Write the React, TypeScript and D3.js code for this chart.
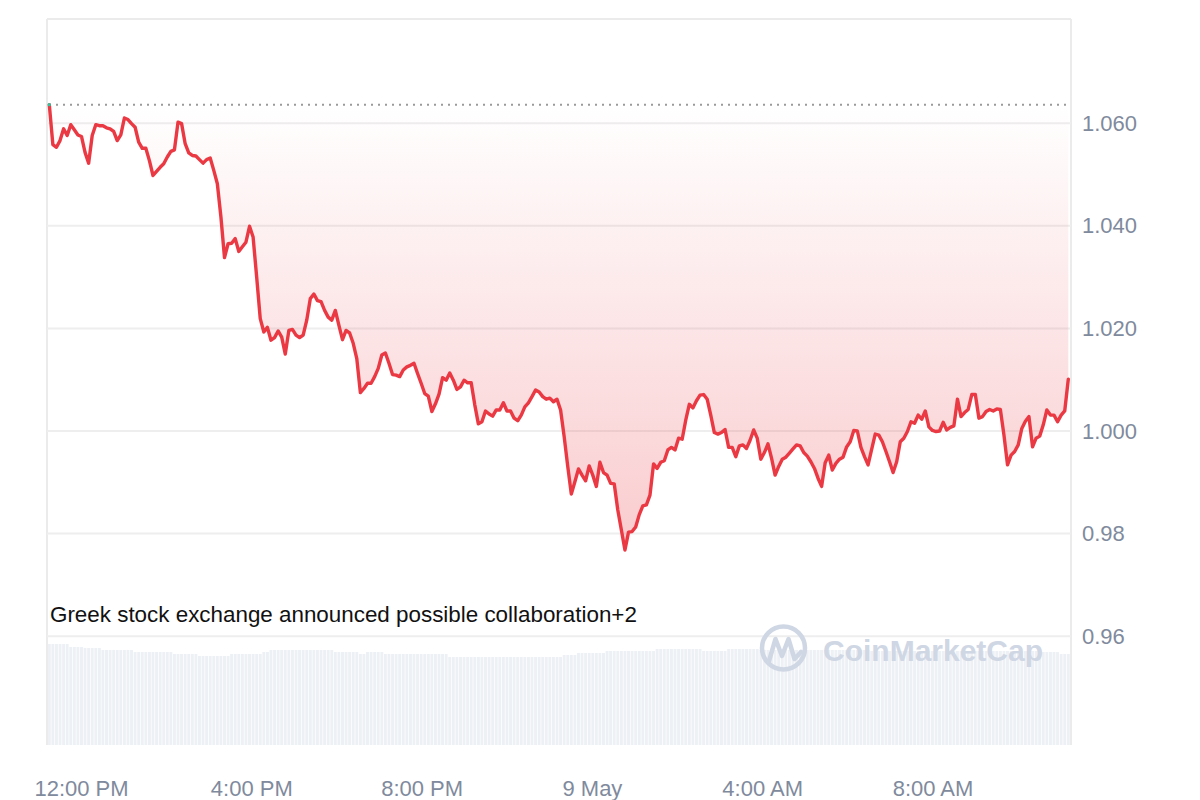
import React from "react";
import * as d3 from "d3";

// ---- Data ----
const startTime = "2024-05-08T11:14:35";
const endTime = "2024-05-09T11:10:40";

const priceValues: number[] = [
  1.0636, 1.0558, 1.0553, 1.0566, 1.0589, 1.0576, 1.0597, 1.0587, 1.0577, 1.0574,
  1.0543, 1.0522, 1.0576, 1.0597, 1.0595, 1.0595, 1.0591, 1.0589, 1.0584, 1.0566,
  1.0577, 1.061, 1.0607, 1.0599, 1.0592, 1.0563, 1.0551, 1.0551, 1.0527, 1.0498,
  1.0506, 1.0514, 1.0521, 1.0534, 1.0545, 1.0548, 1.0602, 1.0599, 1.056, 1.0542,
  1.0537, 1.0536, 1.0529, 1.0522, 1.0529, 1.0532, 1.0508, 1.0482, 1.0417, 1.0338,
  1.0365, 1.0366, 1.0375, 1.035, 1.0359, 1.0368, 1.0399, 1.0378, 1.03, 1.0219,
  1.0193, 1.0202, 1.0177, 1.0182, 1.0195, 1.0183, 1.015, 1.0196, 1.0198, 1.0187,
  1.0182, 1.0187, 1.0216, 1.0258, 1.0267, 1.0254, 1.0252, 1.0235, 1.0222, 1.0216,
  1.0235, 1.0206, 1.0178, 1.0196, 1.0191, 1.0171, 1.0141, 1.0075, 1.0083, 1.0093,
  1.0093, 1.0106, 1.0122, 1.0148, 1.0152, 1.0132, 1.011, 1.0109, 1.0106, 1.0119,
  1.0125, 1.0128, 1.0132, 1.0112, 1.0093, 1.0073, 1.0068, 1.0038, 1.0053, 1.0072,
  1.0104, 1.0099, 1.0113, 1.0099, 1.0081, 1.0086, 1.0099, 1.0094, 1.0094, 1.0051,
  1.0014, 1.0018, 1.0039, 1.0033, 1.0029, 1.0041, 1.0041, 1.0055, 1.0039, 1.0039,
  1.0025, 1.002, 1.0031, 1.0047, 1.0055, 1.0067, 1.008, 1.0076, 1.0067, 1.0062,
  1.0064, 1.0057, 1.0062, 1.0041, 0.9989, 0.9931, 0.9877, 0.9901, 0.9926, 0.9914,
  0.9903, 0.9932, 0.9914, 0.9892, 0.9939, 0.9919, 0.9914, 0.9898, 0.9897, 0.9846,
  0.9807, 0.9768, 0.9803, 0.9804, 0.9813, 0.9837, 0.9854, 0.9856, 0.9875, 0.9936,
  0.9927, 0.9939, 0.9942, 0.9963, 0.9968, 0.9963, 0.9986, 0.9984, 1.0021, 1.0052,
  1.0045, 1.0059, 1.007, 1.0071, 1.0062, 1.0031, 0.9997, 0.9994, 0.9997, 1.0003,
  0.9968, 0.9968, 0.995, 0.9971, 0.9973, 0.9966, 0.9982, 1.0002, 0.9986, 0.9945,
  0.9958, 0.9975, 0.9947, 0.9914, 0.9931, 0.9945, 0.9949, 0.9957, 0.9965, 0.9973,
  0.9971, 0.9958, 0.9951, 0.994, 0.9927, 0.9908, 0.9892, 0.9938, 0.9953, 0.9924,
  0.9937, 0.9945, 0.9949, 0.9969, 0.9979, 1.0001, 1.0, 0.9968, 0.995, 0.9934,
  0.9964, 0.9994, 0.9992, 0.9979, 0.996, 0.994, 0.9919, 0.994, 0.9979, 0.9986,
  0.9999, 1.0018, 1.0015, 1.0031, 1.0023, 1.0039, 1.0008, 1.0001, 0.9999, 1.0,
  1.0017, 1.0002, 1.0007, 1.001, 1.0062, 1.0028, 1.0036, 1.0042, 1.0071, 1.0071,
  1.0025, 1.0028, 1.0038, 1.0042, 1.0039, 1.0043, 1.0042, 0.9992, 0.9934, 0.9953,
  0.996, 0.9973, 1.0005, 1.0019, 1.0028, 0.9969, 0.9986, 0.999, 1.0012, 1.0041,
  1.0031, 1.0031, 1.0018, 1.0031, 1.0039, 1.0101,
];

// Volume (relative units), as runs of [number of bars, value]
const volumeRuns: [number, number][] = [
  [6, 101], [4, 98], [5, 97], [9, 95], [11, 93], [7, 91], [9, 89], [9, 91],
  [2, 93], [18, 95], [7, 93], [2, 91], [5, 93], [18, 91], [32, 88], [4, 90],
  [8, 92], [14, 94], [13, 96], [7, 94], [9, 96], [31, 95], [48, 94], [5, 93], [3, 91],
];

const yTickValues = [0.96, 0.98, 1.0, 1.02, 1.04, 1.06];
const yTickLabels = ["0.96", "0.98", "1.000", "1.020", "1.040", "1.060"];
const xTickTimes = [
  "2024-05-08T12:00:00", "2024-05-08T16:00:00", "2024-05-08T20:00:00",
  "2024-05-09T00:00:00", "2024-05-09T04:00:00", "2024-05-09T08:00:00",
];
const xTickLabels = ["12:00 PM", "4:00 PM", "8:00 PM", "9 May", "4:00 AM", "8:00 AM"];
const annotationText = "Greek stock exchange announced possible collaboration+2";
const yDomain: [number, number] = [0.9388, 1.0803];

const FONT = "'Liberation Sans', Arial, Helvetica, sans-serif";

export default function App() {
  const W = 1200;
  const H = 800;
  const m = { left: 47, right: 129, top: 19, bottom: 55 };
  const plotL = m.left;
  const plotR = W - m.right;
  const plotT = m.top;
  const plotB = H - m.bottom;

  const t0 = new Date(startTime).getTime();
  const t1 = new Date(endTime).getTime();
  const n = priceValues.length;
  const data = priceValues.map((v, i) => ({
    t: new Date(t0 + ((t1 - t0) * i) / (n - 1)),
    v,
  }));

  const x = d3.scaleTime().domain([new Date(t0), new Date(t1)]).range([plotL + 2.3, plotR - 2.7]);
  const y = d3.scaleLinear().domain(yDomain).range([plotB, plotT]);

  const volumes: number[] = [];
  volumeRuns.forEach(([c, v]) => {
    for (let k = 0; k < c; k++) volumes.push(v);
  });
  const vMax = d3.max(volumes) || 1;
  const yVol = d3.scaleLinear().domain([0, vMax]).range([plotB, plotB - 101]);
  const step = x(data[1].t) - x(data[0].t);

  const ref = priceValues[0];
  const minV = d3.min(priceValues) || ref;

  const line = d3
    .line<{ t: Date; v: number }>()
    .x((d) => x(d.t))
    .y((d) => y(d.v));
  const area = d3
    .area<{ t: Date; v: number }>()
    .x((d) => x(d.t))
    .y0(y(ref))
    .y1((d) => y(d.v));

  return (
    <svg
      width={W}
      height={H}
      style={{ position: "absolute", left: 0, top: 0, background: "#fff" }}
    >
      <defs>
        <linearGradient
          id="areaGrad"
          gradientUnits="userSpaceOnUse"
          x1={0}
          x2={0}
          y1={y(ref)}
          y2={y(minV)}
        >
          <stop offset="0%" stopColor="#ea3943" stopOpacity={0.0} />
          <stop offset="100%" stopColor="#ea3943" stopOpacity={0.26} />
        </linearGradient>
      </defs>

      {/* volume bars */}
      <g>
        {volumes.map((v, i) => {
          const cx = x(data[Math.min(i, n - 1)].t);
          return (
            <rect
              key={i}
              x={cx - step / 2 + 0.35}
              width={step - 0.7}
              y={yVol(v)}
              height={plotB - yVol(v)}
              fill="#edf0f4"
            />
          );
        })}
      </g>

      {/* frame */}
      <line x1={plotL} x2={plotR} y1={plotT} y2={plotT} stroke="#ebebeb" strokeWidth={2} />
      <line x1={plotL} x2={plotL} y1={plotT} y2={plotB} stroke="#ebebeb" strokeWidth={2} />
      <line x1={plotR} x2={plotR} y1={plotT} y2={plotB} stroke="#ebebeb" strokeWidth={2} />

      {/* grid */}
      {yTickValues.map((tv, i) => (
        <line
          key={i}
          x1={plotL}
          x2={plotR}
          y1={y(tv)}
          y2={y(tv)}
          stroke="#eeeeee"
          strokeWidth={2}
        />
      ))}

      {/* area */}
      <path d={area(data) || ""} fill="url(#areaGrad)" />

      {/* reference dotted line */}
      <line
        x1={plotL + 2}
        x2={plotR - 3}
        y1={y(ref)}
        y2={y(ref)}
        stroke="#9a9a9a"
        strokeWidth={2}
        strokeDasharray="2 5"
      />

      {/* price line */}
      <path
        d={line(data) || ""}
        fill="none"
        stroke="#ea3943"
        strokeWidth={3.4}
        strokeLinejoin="round"
        strokeLinecap="round"
      />
      <circle cx={x(data[0].t)} cy={y(ref)} r={1.6} fill="#34c3a0" />

      {/* y-axis labels */}
      {yTickValues.map((tv, i) => (
        <text
          key={i}
          x={plotR + 11}
          y={y(tv)}
          dy="0.35em"
          fontFamily={FONT}
          fontSize={22}
          fill="#808a9d"
        >
          {yTickLabels[i]}
        </text>
      ))}

      {/* x-axis labels */}
      {xTickTimes.map((tt, i) => (
        <text
          key={i}
          x={x(new Date(tt))}
          y={795.5}
          textAnchor="middle"
          fontFamily={FONT}
          fontSize={22}
          fill="#808a9d"
        >
          {xTickLabels[i]}
        </text>
      ))}

      {/* annotation */}
      <text x={plotL + 3} y={622} fontFamily={FONT} fontSize={22.4} fill="#111">
        {annotationText}
      </text>

      {/* watermark */}
      <g>
        <circle cx={783.5} cy={648} r={21.5} fill="none" stroke="#cfd6e4" strokeWidth={4.5} />
        <path
          d="M769,661 L775.5,639 L782,656 L788.5,639 L794.5,659 L801,652"
          fill="none"
          stroke="#cfd6e4"
          strokeWidth={4.5}
          strokeLinejoin="round"
          strokeLinecap="round"
        />
        <text
          x={823}
          y={661}
          fontFamily={FONT}
          fontWeight="bold"
          fontSize={30}
          fill="#cfd6e4"
        >
          CoinMarketCap
        </text>
      </g>
    </svg>
  );
}
